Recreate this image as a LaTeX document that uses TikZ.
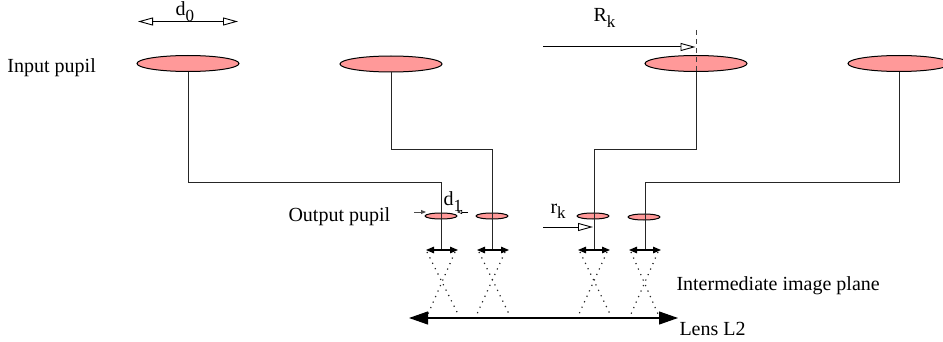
\documentclass[tikz,border=0pt]{standalone}
\usepackage{fontspec}
\setmainfont{Liberation Serif}
\usetikzlibrary{shapes.geometric,arrows.meta}
\newcommand{\lowered}[1]{\raisebox{-0.28em}{\fontsize{17}{17}\selectfont #1}}
\definecolor{pupilpink}{HTML}{FF9999}
\tikzset{
  x=1pt,y=-1pt,
  every path/.style={line width=1pt},
  bigpupil/.style={ellipse,draw=black,fill=pupilpink,inner sep=0pt,minimum width=102pt,minimum height=16pt},
  smallpupil/.style={ellipse,draw=black,fill=pupilpink,inner sep=0pt,minimum width=32pt,minimum height=6pt},
  label/.style={anchor=base west,inner sep=0pt,font=\fontsize{20}{22}\selectfont},
  beam/.style={draw=black!85},
  openhead/.style={-{Triangle[open,fill=white,length=15pt,width=8pt,line width=0.9pt]}},
  twoopen/.style={{Triangle[open,fill=white,length=15pt,width=8pt,line width=0.9pt]}-{Triangle[open,fill=white,length=15pt,width=8pt,line width=0.9pt]}},
  smallaxis/.style={{Triangle[length=8pt,width=6.5pt]}-{Triangle[length=8pt,width=6.5pt]},line width=1.1pt},
  lensaxis/.style={{Triangle[length=19pt,width=13pt]}-{Triangle[length=19pt,width=13pt]},line width=1.1pt},
  raydots/.style={line width=1.2pt,dash pattern=on 1.2pt off 4.8pt,draw=black!85},
  tickarrow/.style={-{Triangle[length=5pt,width=4pt]},draw=black!70,line width=0.9pt},
  tickopen/.style={-{Triangle[open,fill=white,length=5pt,width=4pt,line width=0.6pt]},line width=0.9pt},
}
\begin{document}
\begin{tikzpicture}
\useasboundingbox (0,0) rectangle (943,342);
% labels
\node[label] (lin) at (7,73) {Input pupil};
\node[label] (lout) at (288,222) {Output pupil};
\node[label] (limg) at (676,290) {Intermediate image plane};
\node[label] (llens) at (679,335) {Lens L2};
\node[label] (ld0) at (175,16) {d\lowered{0}};
\node[label] (lrk) at (593,22) {R\lowered{k}};
\node[label] (lsrk) at (550,213) {r\lowered{k}};
\node[label] (ld1) at (443,206) {d\lowered{1}};
% coordinates
\coordinate (a0) at (138,21.5); \coordinate (a1) at (238,21.5);
\coordinate (r0) at (543,47); \coordinate (r1) at (695.5,47);
\coordinate (s0) at (543,227); \coordinate (s1) at (593,227);
\coordinate (dL) at (414,212); \coordinate (dLe) at (426,212);
\coordinate (dR) at (468,212); \coordinate (dRe) at (457,212);
\coordinate (dash0) at (696,30); \coordinate (dash1) at (696,72);
\coordinate (c1) at (441,250); \coordinate (c2) at (492,250);
\coordinate (c3) at (594,250); \coordinate (c4) at (645,250);
% pupils
\node[bigpupil] (p1) at (188,63.5) {};
\node[bigpupil] (p2) at (391,64) {};
\node[bigpupil] (p3) at (696,63.5) {};
\node[bigpupil] (p4) at (899,63.5) {};
\node[smallpupil] (q1) at (441,216) {};
\node[smallpupil] (q2) at (492,216) {};
\node[smallpupil] (q3) at (593,216) {};
\node[smallpupil] (q4) at (644,217) {};
% beams
\draw[beam] (p1.south) |- (c1 |- 0,182.5) -- (c1);
\draw[beam] (p2.south) |- (c2 |- 0,149.5) -- (c2);
\draw[beam] (p3.south) |- (c3 |- 0,149.5) -- (c3);
\draw[beam] (p4.south) |- (c4 |- 0,182.5) -- (c4);
\draw[draw=black!75,dash pattern=on 5pt off 4pt] (dash0) -- (dash1);
% arrows
\draw[twoopen] (a0) -- (a1);
\draw[openhead] (r0) -- (r1);
\draw[openhead] (s0) -- (s1);
\draw[tickarrow] (dL) -- (dLe);
\draw[tickopen] (dR) -- (dRe);
% small lenses
\draw[smallaxis] (426,250) -- (458,250);
\draw[smallaxis] (477,250) -- (509,250);
\draw[smallaxis] (578,250) -- (610,250);
\draw[smallaxis] (629,250) -- (661,250);
% rays
\draw[raydots] (427,252) -- (458,314);
\draw[raydots] (455,252) -- (428,314);
\draw[raydots] (479,252) -- (509,314);
\draw[raydots] (505,252) -- (477,314);
\draw[raydots] (580,252) -- (610,314);
\draw[raydots] (607,252) -- (579,314);
\draw[raydots] (631,252) -- (658,314);
\draw[raydots] (658,252) -- (631,314);
% lens
\draw[lensaxis] (409,318) -- (678,318);
\end{tikzpicture}
\end{document}
